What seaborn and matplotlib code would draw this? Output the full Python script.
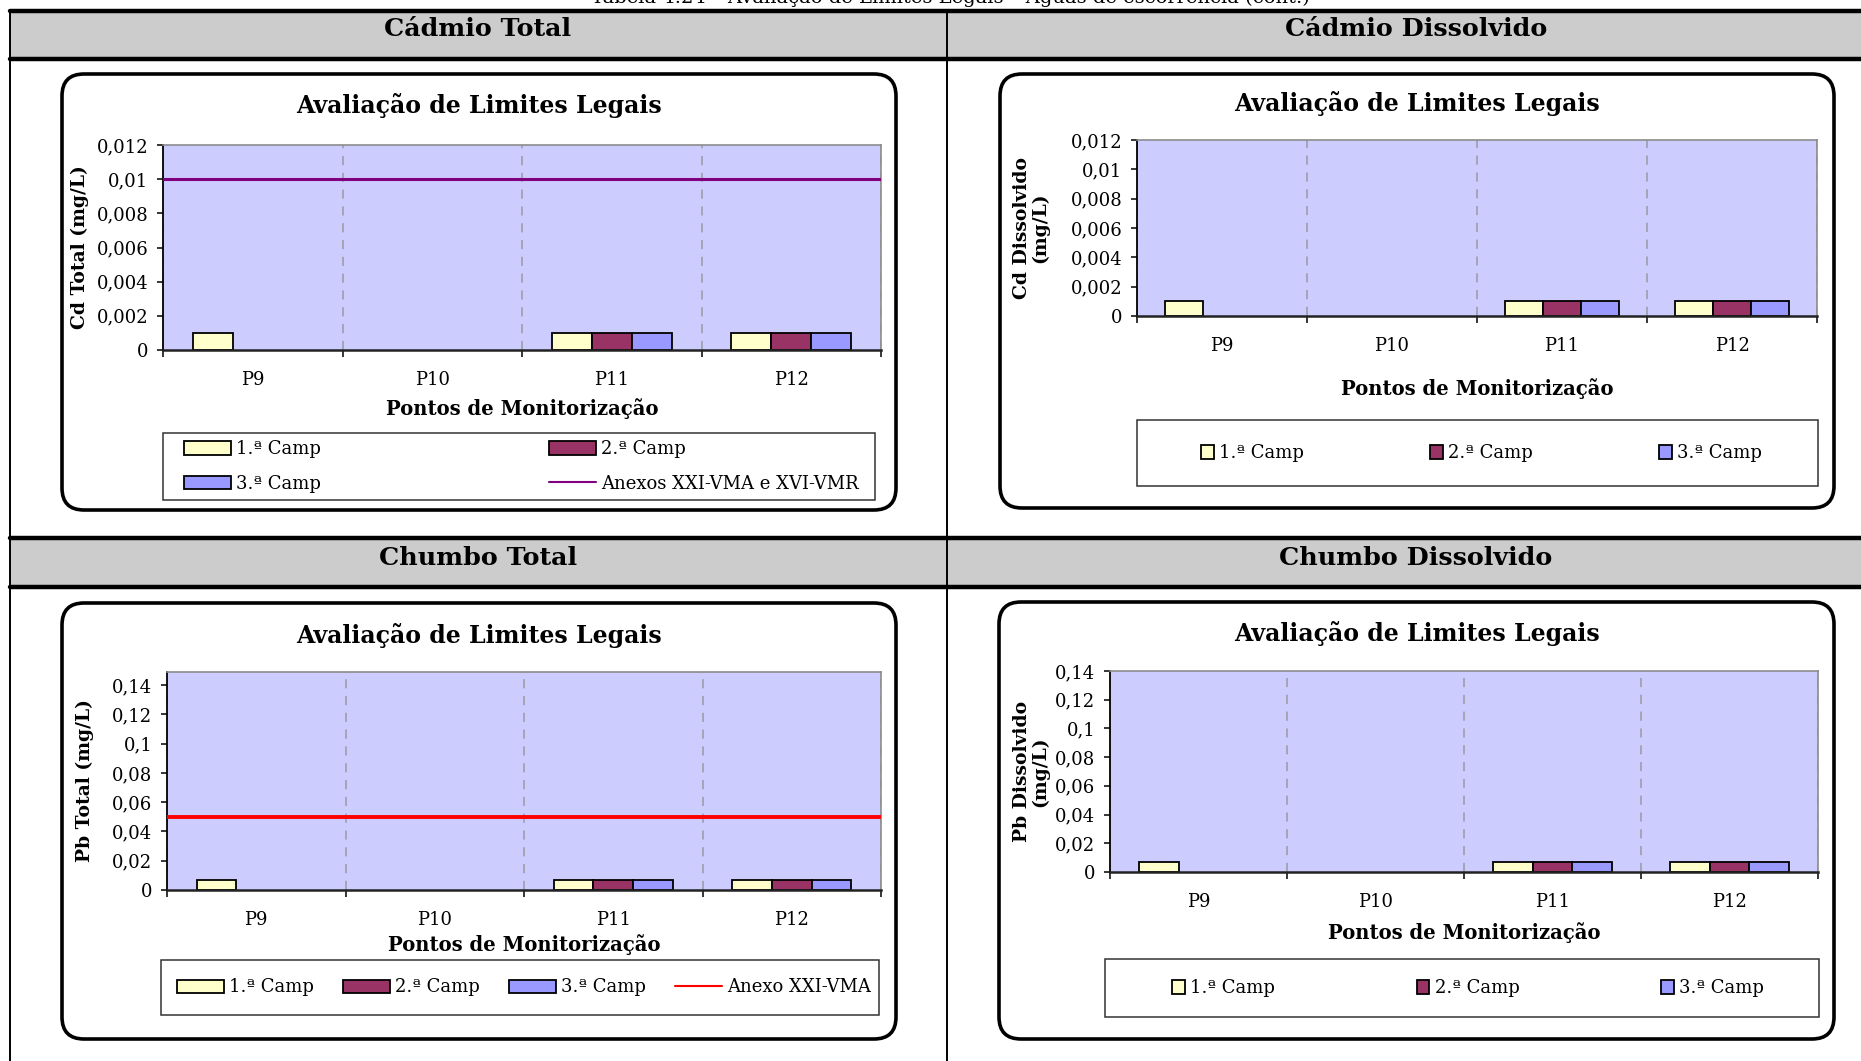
import numpy as np
import pandas as pd
import matplotlib
matplotlib.use("Agg")
import matplotlib.pyplot as plt
from matplotlib.patches import Rectangle, FancyBboxPatch, Patch
from matplotlib.lines import Line2D
import seaborn as sns

# --- data ---
categories = ["P9", "P10", "P11", "P12"]
campaigns = ["1.ª Camp", "2.ª Camp", "3.ª Camp"]
camp_colors = ["#FFFFCC", "#993366", "#9999FF"]

cd_total_1 = [0.001, np.nan, 0.001, 0.001]
cd_total_2 = [np.nan, np.nan, 0.001, 0.001]
cd_total_3 = [np.nan, np.nan, 0.001, 0.001]

cd_diss_1 = [0.001, np.nan, 0.001, 0.001]
cd_diss_2 = [np.nan, np.nan, 0.001, 0.001]
cd_diss_3 = [np.nan, np.nan, 0.001, 0.001]

pb_total_1 = [0.007, np.nan, 0.007, 0.007]
pb_total_2 = [np.nan, np.nan, 0.007, 0.007]
pb_total_3 = [np.nan, np.nan, 0.007, 0.007]

pb_diss_1 = [0.007, np.nan, 0.007, 0.007]
pb_diss_2 = [np.nan, np.nan, 0.007, 0.007]
pb_diss_3 = [np.nan, np.nan, 0.007, 0.007]

cd_limit = 0.01
cd_limit_label = "Anexos XXI-VMA e XVI-VMR"
pb_limit = 0.05
pb_limit_label = "Anexo XXI-VMA"

cd_ticks = [0, 0.002, 0.004, 0.006, 0.008, 0.01, 0.012]
cd_tick_labels = ["0", "0,002", "0,004", "0,006", "0,008", "0,01", "0,012"]
pb_ticks = [0, 0.02, 0.04, 0.06, 0.08, 0.1, 0.12, 0.14]
pb_tick_labels = ["0", "0,02", "0,04", "0,06", "0,08", "0,1", "0,12", "0,14"]

headers = ["Cádmio Total", "Cádmio Dissolvido", "Chumbo Total", "Chumbo Dissolvido"]
chart_title = "Avaliação de Limites Legais"
x_title = "Pontos de Monitorização"
page_caption = "Tabela 4.24 – Avaliação de Limites Legais – Águas de escorrência (cont.)"

# --- figure setup ---
W, H = 1861, 1061
sns.set_theme(style="white")
plt.rcParams["font.family"] = ["DejaVu Serif"]
plt.rcParams["axes.facecolor"] = "#CCCCFF"
for key in ("text.color", "axes.labelcolor", "xtick.color", "ytick.color"):
    plt.rcParams[key] = "black"

fig = plt.figure(figsize=(W / 100, H / 100), dpi=100)
fig.patch.set_facecolor("white")


def frac(x0, y0, x1, y1):
    return [x0 / W, 1 - y1 / H, (x1 - x0) / W, (y1 - y0) / H]


def make_df(s1, s2, s3):
    rows = []
    for name, vals in zip(campaigns, [s1, s2, s3]):
        for c, v in zip(categories, vals):
            rows.append({"ponto": c, "campanha": name, "valor": v})
    return pd.DataFrame(rows)


# table grid: gray header bands + thick rules
for y0, y1 in [(11, 59), (538, 587)]:
    fig.add_artist(Rectangle((10 / W, 1 - y1 / H), 1 - 10 / W, (y1 - y0) / H,
                             transform=fig.transFigure, facecolor="#CCCCCC",
                             edgecolor="none", zorder=0))
    for yy in (y0, y1):
        fig.add_artist(Line2D([10 / W, 1], [1 - yy / H] * 2, transform=fig.transFigure,
                              color="black", lw=3.2, zorder=2))
for xx in (10, 947):
    fig.add_artist(Line2D([xx / W] * 2, [1 - 11 / H, 0], transform=fig.transFigure,
                          color="black", lw=1.4, zorder=2))

# page caption, clipped at the top edge as in the scanned page
fig.text(950 / W, 1 - 3 / H, page_caption, ha="center", va="baseline", fontsize=14)

header_pos = [(478, 29), (1416, 29), (478, 558), (1416, 558)]
for txt, (hx, hy) in zip(headers, header_pos):
    fig.text(hx / W, 1 - hy / H, txt, ha="center", va="center",
             fontsize=18.3, fontweight="bold")


def draw_panel(s1, s2, s3, ylabel, ylim, ticks, tick_labels, ax_px, box_px, title_y,
               leg_px, leg_inset, xlabel_y, ylabel_x, limit=None, limit_label=None,
               limit_color=None, limit_lw=2.0, ncol=3, square=True):
    # rounded chart frame
    bx0, by0, bx1, by1 = box_px
    fig.add_artist(FancyBboxPatch((bx0 / 100, (H - by1) / 100), (bx1 - bx0) / 100,
                                  (by1 - by0) / 100, boxstyle="round,pad=0,rounding_size=0.22",
                                  transform=fig.dpi_scale_trans, facecolor="none",
                                  edgecolor="black", lw=2.6, zorder=1))
    fig.text((bx0 + bx1) / 2 / W, 1 - title_y / H, chart_title, ha="center", va="center",
             fontsize=17, fontweight="bold")

    ax = fig.add_axes(frac(*ax_px))
    df = make_df(s1, s2, s3)
    sns.barplot(data=df, x="ponto", y="valor", hue="campanha", order=categories,
                hue_order=campaigns, palette=camp_colors, saturation=1, width=0.667,
                edgecolor="black", linewidth=1.3, errorbar=None, legend=False, ax=ax)

    handles = [Patch(facecolor=c, edgecolor="black", lw=1.3) for c in camp_colors]
    labels = list(campaigns)
    if limit is not None:
        ax.axhline(limit, color=limit_color, lw=limit_lw, zorder=3)
        line_h = Line2D([], [], color=limit_color, lw=1.5)
        if ncol == 2:
            handles = [handles[0], handles[2], handles[1], line_h]
            labels = [labels[0], labels[2], labels[1], limit_label]
        else:
            handles.append(line_h)
            labels.append(limit_label)

    ax.set_xlim(-0.5, len(categories) - 0.5)
    ax.set_ylim(*ylim)
    ax.set_yticks(ticks)
    ax.set_yticklabels(tick_labels)
    ax.set_xticks(np.arange(-0.5, len(categories), 1.0), minor=True)
    ax.grid(False)
    ax.grid(which="minor", axis="x", color="#9A9AA6", lw=1.1, ls=(0, (6, 5)))
    ax.set_axisbelow(True)
    ax.tick_params(axis="x", which="major", length=0, pad=15, labelsize=13)
    ax.tick_params(axis="x", which="minor", direction="out", length=5, width=1.1,
                   color="black", bottom=True)
    ax.tick_params(axis="y", direction="out", length=4.5, width=1.1, color="black",
                   left=True, pad=6, labelsize=13)
    for side in ("top", "right"):
        ax.spines[side].set_color("#8C8C8C")
        ax.spines[side].set_linewidth(1.2)
    ax.spines["left"].set_color("black")
    ax.spines["left"].set_linewidth(1.3)
    ax.spines["bottom"].set_color("#222222")
    ax.spines["bottom"].set_linewidth(1.8)

    x0, y0, x1, y1 = ax_px
    ax.set_xlabel(x_title, fontsize=14.1, fontweight="bold", va="center")
    ax.xaxis.set_label_coords(0.5, -(xlabel_y - y1) / (y1 - y0))
    ax.set_ylabel(ylabel, fontsize=13.5, fontweight="bold", va="center",
                  multialignment="center", linespacing=1.0)
    ax.yaxis.set_label_coords((ylabel_x - x0) / (x1 - x0), 0.5)

    # legend frame + legend
    lx0, ly0, lx1, ly1 = leg_px
    fig.add_artist(Rectangle((lx0 / W, 1 - ly1 / H), (lx1 - lx0) / W, (ly1 - ly0) / H,
                             transform=fig.transFigure, facecolor="white",
                             edgecolor="#333333", lw=1.1, zorder=1))
    il, ir = leg_inset
    leg = fig.legend(handles, labels, loc="center", ncol=ncol, mode="expand",
                     bbox_to_anchor=frac(lx0 + il, ly0, lx1 - ir, ly1),
                     bbox_transform=fig.transFigure, frameon=False, fontsize=13,
                     borderpad=0, borderaxespad=0,
                     handlelength=0.7 if square else 2.6,
                     handleheight=0.85 if square else 0.75,
                     handletextpad=0.3, labelspacing=0.9)
    leg.set_zorder(3)
    return ax


# Cádmio Total
draw_panel(cd_total_1, cd_total_2, cd_total_3, "Cd Total (mg/L)", (0, 0.012),
           cd_ticks, cd_tick_labels, ax_px=(163, 145, 881, 350), box_px=(62, 74, 896, 510),
           title_y=106, leg_px=(163, 433, 875, 500), leg_inset=(21, 16), xlabel_y=409,
           ylabel_x=80, limit=cd_limit, limit_label=cd_limit_label, limit_color="#800080",
           limit_lw=2.2, ncol=2, square=False)

# Cádmio Dissolvido
draw_panel(cd_diss_1, cd_diss_2, cd_diss_3, "Cd Dissolvido\n(mg/L)", (0, 0.012),
           cd_ticks, cd_tick_labels, ax_px=(1137, 140, 1817, 316), box_px=(1000, 74, 1834, 508),
           title_y=104, leg_px=(1137, 420, 1818, 486), leg_inset=(64, 56), xlabel_y=389,
           ylabel_x=1031)

# Chumbo Total
draw_panel(pb_total_1, pb_total_2, pb_total_3, "Pb Total (mg/L)", (0, 0.149),
           pb_ticks, pb_tick_labels, ax_px=(167, 672, 881, 890), box_px=(62, 603, 896, 1039),
           title_y=635, leg_px=(161, 960, 879, 1015), leg_inset=(16, 8), xlabel_y=945,
           ylabel_x=85, limit=pb_limit, limit_label=pb_limit_label, limit_color="#FF0000",
           limit_lw=2.8, ncol=4, square=False)

# Chumbo Dissolvido
draw_panel(pb_diss_1, pb_diss_2, pb_diss_3, "Pb Dissolvido\n(mg/L)", (0, 0.14),
           pb_ticks, pb_tick_labels, ax_px=(1110, 671, 1818, 872), box_px=(999, 602, 1834, 1039),
           title_y=633, leg_px=(1105, 959, 1819, 1017), leg_inset=(67, 55), xlabel_y=933,
           ylabel_x=1031)

fig.savefig("out.png", dpi=100)
